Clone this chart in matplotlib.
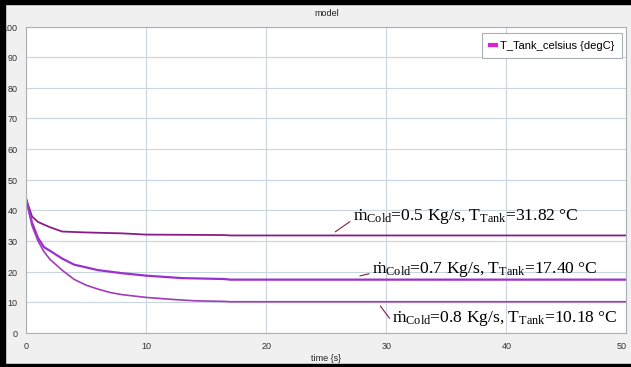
import matplotlib
matplotlib.use('Agg')
import matplotlib.pyplot as plt
from matplotlib.lines import Line2D
from matplotlib.patches import Rectangle

plt.rcParams['font.family'] = ['Liberation Sans', 'DejaVu Sans']
plt.rcParams['mathtext.fontset'] = 'custom'
plt.rcParams['mathtext.rm'] = 'Liberation Serif'
plt.rcParams['mathtext.it'] = 'Liberation Serif:italic'

# simulation output
t_05 = [0, 0.5, 1, 2, 3, 5, 8, 10, 16.5, 17, 50]
T_05 = [43.8, 38.0, 36.2, 34.5, 33.1, 32.8, 32.5, 32.1, 31.95, 31.82, 31.82]
t_07 = [0, 0.5, 1, 1.5, 2, 3, 4, 6, 8, 10, 13, 16.5, 17, 50]
T_07 = [43.8, 36.0, 31.0, 28.0, 26.8, 24.3, 22.3, 20.5, 19.5, 18.7, 17.9, 17.6, 17.40, 17.40]
t_08 = [0, 0.5, 1, 1.5, 2, 3, 4, 5, 6, 7, 8, 10, 12, 14, 16.5, 17, 50]
T_08 = [43.8, 35.0, 30.0, 26.5, 24.0, 20.5, 17.5, 15.6, 14.3, 13.2, 12.5, 11.6, 11.0, 10.5, 10.3, 10.18, 10.18]

labels = [r'ṁ$_{\mathrm{Cold}}$=0.5 Kg/s, T$_{\mathrm{Tank}}$=31.82 °C',
          r'ṁ$_{\mathrm{Cold}}$=0.7 Kg/s, T$_{\mathrm{Tank}}$=17.40 °C',
          r'ṁ$_{\mathrm{Cold}}$=0.8 Kg/s, T$_{\mathrm{Tank}}$=10.18 °C']

fig = plt.figure(figsize=(6.315, 3.675), dpi=100, facecolor='#f0f0f0')
ax = fig.add_axes([26/631, 34/367, 600/631, 306/367])
ax.set_facecolor('white')

ax.plot(t_05, T_05, color='#8a1c8a', lw=1.3)
ax.plot(t_07, T_07, color='#9a30d0', lw=1.6)
ax.plot(t_08, T_08, color='#a03cb8', lw=1.2)

ax.set_xlim(0, 50)
ax.set_ylim(0, 100)
ax.set_xticks(range(0, 51, 10))
ax.set_yticks(range(0, 101, 10))
ax.grid(True, color='#c9d5df', lw=0.8)
ax.tick_params(length=0, labelsize=6.5, labelcolor='#333333', pad=6)
for s in ax.spines.values():
    s.set_color('#a8b0b8')
    s.set_linewidth(0.8)
ax.get_xticklabels()[-1].set_horizontalalignment('right')

ax.set_title('model', fontsize=6.5, color='#222222', pad=8)
ax.set_xlabel('time {s}', fontsize=6.5, color='#222222', labelpad=2)

# annotation: (leader start, text position)
ann = [((25.75, 33.0), (27.2, 38.2)),
       ((27.8, 18.6), (28.8, 20.8)),
       ((29.5, 8.8), (30.5, 4.8))]
for lab, (xy, xyt) in zip(labels, ann):
    ax.annotate(lab, xy=xy, xytext=xyt, ha='left', va='center',
                fontsize=12.6, family='Liberation Serif', color='black',
                arrowprops=dict(arrowstyle='-', color='#7a2040', lw=0.8,
                                relpos=(0, 0.3), shrinkA=0, shrinkB=0))

h = [Line2D([0], [0], color='#e020d0', lw=3)]
leg = ax.legend(h, ['T_Tank_celsius {degC}'], loc='upper right', fontsize=8,
                handlelength=0.5, handletextpad=0.4, borderpad=0.7,
                borderaxespad=0, fancybox=False, framealpha=1,
                edgecolor='#a8b0b8', bbox_to_anchor=(0.993, 0.98))
leg.get_frame().set_linewidth(0.8)

# black frame round the screenshot (left, top, bottom)
for r in [(0, 0, 5/631, 1), (0, 1 - 4/367, 1, 4/367), (0, 0, 1, 3/367)]:
    fig.patches.append(Rectangle(r[:2], r[2], r[3], transform=fig.transFigure,
                                 color='black', zorder=10))

fig.savefig('out.png', dpi=100, facecolor=fig.get_facecolor())
